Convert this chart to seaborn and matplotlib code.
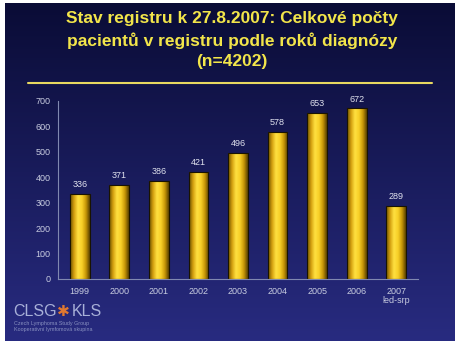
import numpy as np
import pandas as pd
import matplotlib
matplotlib.use("Agg")
import matplotlib.pyplot as plt
import seaborn as sns

years = ["1999", "2000", "2001", "2002", "2003", "2004", "2005", "2006", "2007\nled-srp"]
counts = [336, 371, 386, 421, 496, 578, 653, 672, 289]
yticks = [0, 100, 200, 300, 400, 500, 600, 700]
title = "Stav registru k 27.8.2007: Celkové počty\npacientů v registru podle roků diagnózy\n(n=4202)"

sns.set_theme(style="white")
plt.rcParams['font.family'] = ['Liberation Sans', 'DejaVu Sans']

W, H = 464, 347
fig = plt.figure(figsize=(W / 100, H / 100), dpi=100, facecolor="white")

# slide background with vertical gradient
bg = fig.add_axes([5 / W, 1 - 341 / H, 450 / W, 338 / H])
bg.set_axis_off()
top = np.array([0x0a, 0x0c, 0x36]) / 255
bot = np.array([0x28, 0x2b, 0x80]) / 255
t = np.linspace(0, 1, 256)[:, None]
grad = top[None, :] * (1 - t) + bot[None, :] * t
bg.imshow(grad[:, None, :].repeat(2, axis=1), aspect="auto", extent=[0, 1, 0, 1], origin="upper")
bg.set_xlim(0, 1)
bg.set_ylim(0, 1)

# title and rule
fig.text(0.5, 1 - 40 / H, title, ha="center", va="center", color="#f2e54a",
         fontsize=12.5, fontweight="bold", linespacing=1.42)
fig.add_artist(plt.Line2D([28 / W, 432 / W], [1 - 83 / H, 1 - 83 / H], color="#e8d860", lw=1.5))

# chart
ax = fig.add_axes([58 / W, 1 - 279 / H, 360 / W, 178 / H])
ax.patch.set_alpha(0)
df = pd.DataFrame({"year": years, "count": counts})
sns.barplot(data=df, x="year", y="count", ax=ax, color="#f0c020", width=0.5,
            edgecolor="#1a1400", linewidth=0.8, saturation=1)

# gradient fill on each bar
cmap = matplotlib.colors.LinearSegmentedColormap.from_list(
    "gold", ["#6a5000", "#d4a010", "#ffe040", "#f8d028", "#c89808", "#5a4200"])
xg = np.linspace(0, 1, 64)[None, :]
for p in ax.patches:
    x0, y0 = p.get_x(), p.get_y()
    w, h = p.get_width(), p.get_height()
    im = ax.imshow(xg, cmap=cmap, aspect="auto", extent=[x0, x0 + w, y0, y0 + h], zorder=p.get_zorder() + 0.1)
    im.set_clip_path(p)
    p.set_facecolor("none")
    p.set_zorder(p.get_zorder() + 0.2)

for i, v in enumerate(counts):
    ax.text(i, v + 18, str(v), ha="center", va="bottom", color="#e0e2ee", fontsize=6.5)

ax.set_xlim(-0.55, len(years) - 0.45)
ax.set_ylim(0, 700)
ax.set_yticks(yticks)
ax.set_xlabel("")
ax.set_ylabel("")
for s in ["top", "right"]:
    ax.spines[s].set_visible(False)
for s in ["left", "bottom"]:
    ax.spines[s].set_color("#8088b0")
    ax.spines[s].set_linewidth(0.8)
ax.tick_params(axis="y", colors="#c8cce0", labelsize=6.5, length=3, width=0.6, direction="inout", pad=4)
ax.tick_params(axis="x", colors="#c8cce0", labelsize=6.5, length=0, pad=6)
for lab in ax.get_yticklabels():
    lab.set_color("#c8cce0")
for lab in ax.get_xticklabels():
    lab.set_color("#c8cce0")
    lab.set_linespacing(1.0)
ax.set_xticks(np.arange(-0.5, len(years), 1), minor=True)
ax.tick_params(axis="x", which="minor", length=2, width=0.6, color="#8088b0")

# logo
fig.text(13 / W, 1 - 311 / H, "CLSG", color="#a8b0d8", fontsize=11.5, va="center", ha="left")
fig.text(57 / W, 1 - 311 / H, "✱", color="#e07830", fontsize=11, va="center", ha="left",
         family=["DejaVu Sans"])
fig.text(72 / W, 1 - 311 / H, "KLS", color="#a8b0d8", fontsize=11.5, va="center", ha="left")
fig.text(14 / W, 1 - 324 / H, "Czech Lymphoma Study Group", color="#8890c0", fontsize=3.9, va="center")
fig.text(14 / W, 1 - 330 / H, "Kooperativní lymfomová skupina", color="#8890c0", fontsize=3.9, va="center")

fig.savefig("out.png", dpi=100, facecolor="white")
